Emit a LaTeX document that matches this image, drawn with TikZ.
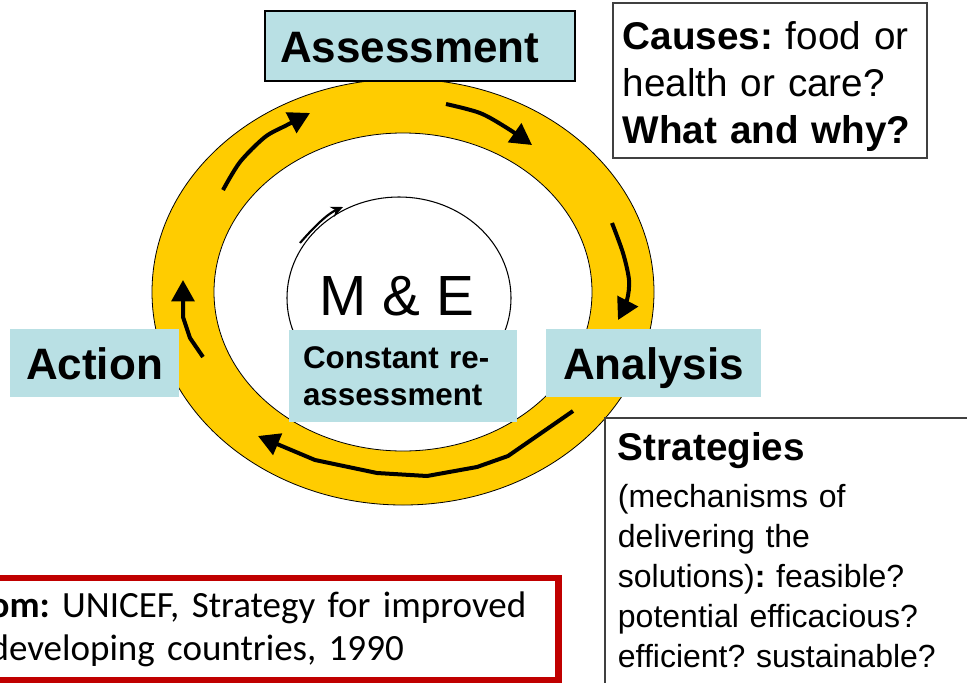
\documentclass[tikz,border=0pt]{standalone}
\usepackage{fontspec}
\setmainfont{Liberation Sans}
\newfontfamily\calibri{Carlito}
\usetikzlibrary{arrows.meta}
\definecolor{ringyellow}{RGB}{255,204,0}
\definecolor{stageblue}{RGB}{185,224,228}
\definecolor{sourcered}{RGB}{192,0,0}
\setlength{\parindent}{0pt}
\frenchspacing

\begin{document}
\begin{tikzpicture}[x=0.75pt, y=-0.75pt,
  stage/.style={fill=stageblue, minimum height=51pt, text height=24pt, text depth=0pt,
                font=\fontsize{33}{40}\selectfont\bfseries},
  note/.style={draw=black!75, line width=1.2pt, fill=white, align=left, inner xsep=9.5pt},
  cyclearrow/.style={line width=3pt, -{Triangle[length=16pt, width=17pt]}},
]
  \useasboundingbox (0,0) rectangle (967,682);
  \clip (0,0) rectangle (967,682);

  % yellow ring and inner M&E circle
  \draw[fill=ringyellow, line width=0.6pt] (403,292) ellipse (188.25pt and 159.75pt);
  \draw[fill=white, line width=0.6pt] (403,292) ellipse (141.75pt and 119.25pt);
  \draw[line width=0.8pt] (399,298) ellipse (84pt and 75.75pt);
  \draw[line width=1.6pt, -{Stealth[length=9pt, width=8pt]}]
    (300,243) .. controls (313,228) and (327,214) .. (343,207);

  % arrows round the ring
  \draw[cyclearrow] plot[smooth] coordinates {(223,190) (240,162) (265,137) (287,125) (310,113)};
  \draw[cyclearrow] plot[smooth] coordinates {(446,104) (480,113) (507,128) (532,145)};
  \draw[cyclearrow] plot[smooth] coordinates {(612,223) (623,253) (629,280) (627,300) (618,320)};
  \draw[cyclearrow] (573,411) -- (508,456) -- (477,467) -- (427,476) -- (377,473) -- (315,460) -- (258,436);
  \draw[cyclearrow] (203,357) -- (190,338) -- (183,317) -- (183,280);

  % stages
  \node[stage, draw=black, line width=1.9pt, text width=210pt, align=left, inner xsep=11.25pt,
        minimum height=52.5pt] (assessment) at (420,46) {Assessment};
  \node[stage, minimum width=161.25pt] (analysis) at (653.5,363) {Analysis};
  \node[stage, minimum width=126.75pt] (action) at (94.5,363) {Action};

  % M&E
  \node[font=\fontsize{42.5}{50}\selectfont] (me) at (397,296) {M \& E};
  \node[fill=stageblue, text width=150pt, align=left, inner xsep=10.5pt, minimum height=69pt,
        font=\fontsize{23.5}{27.75}\selectfont\bfseries] (reassess) at (403,376)
        {Constant re-\\assessment};

  % notes
  \node[note, text width=221pt, inner xsep=7.25pt, minimum height=116.25pt,
        font=\fontsize{29}{35}\selectfont]
    (causes) at (770,80.5) {\rule{0pt}{30pt}\textbf{Causes:} food or\\health or care?\\\textbf{What and why?}};
  \node[anchor=north west, text width=270pt, inner xsep=9.5pt, inner ysep=11pt, align=left,
        font=\fontsize{24}{30}\selectfont] (strategies) at (605,418)
    {{\fontsize{29}{35}\selectfont\bfseries Strategies}\\[5pt]
     (mechanisms of\\delivering the\\solutions)\textbf{:} feasible?\\potential efficacious?\\efficient? sustainable?};
  \draw[draw=black!75, line width=1.2pt]
    ([yshift=-300pt]strategies.north west) -- (strategies.north west) -- (strategies.north east);

  % source
  \node[draw=sourcered, line width=5pt, fill=white, anchor=north east, minimum width=431.4pt,
        minimum height=76.5pt, text width=421.4pt, inner xsep=5pt, align=left,
        font=\calibri\fontsize{27.75}{32.25}\selectfont] (source) at (561.5,574.5)
    {\textbf{om:} UNICEF, Strategy for improved\\developing countries, 1990};
\end{tikzpicture}
\end{document}
